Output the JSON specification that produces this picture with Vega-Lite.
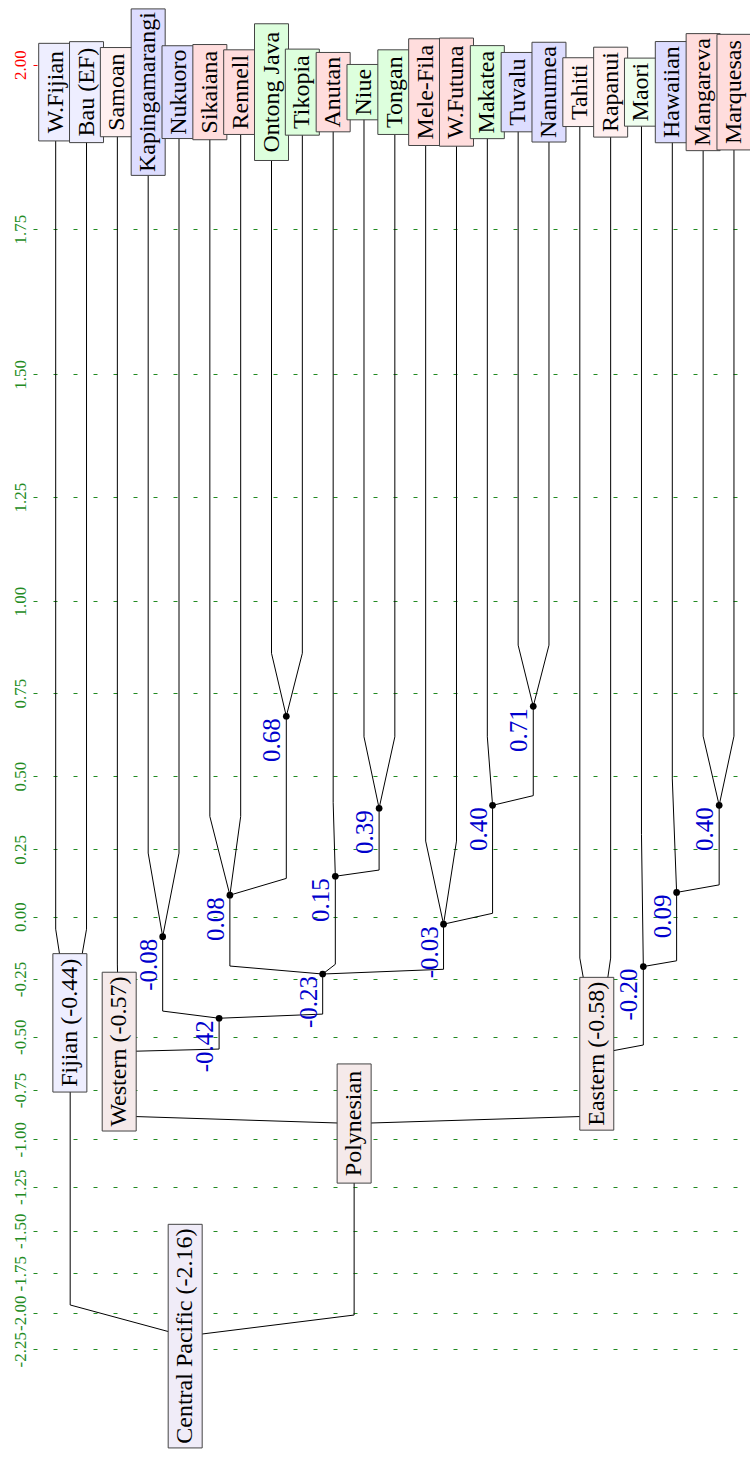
{
  "$schema": "https://vega.github.io/schema/vega-lite/v6.json",
  "width": 717,
  "height": 1461,
  "autosize": "none",
  "padding": {"left": 33, "top": 0, "right": 0, "bottom": 0},
  "background": "white",
  "config": {"view": {"stroke": null}},
  "datasets": {
    "edges": [
      {"e": "WFijian", "s": 0, "x": 0, "v": 1.958}, {"e": "WFijian", "s": 1, "x": 0, "v": -0.05}, {"e": "WFijian", "s": 2, "x": 0.47, "v": -0.44},
      {"e": "Bau", "s": 0, "x": 1, "v": 1.958}, {"e": "Bau", "s": 1, "x": 1, "v": -0.05}, {"e": "Bau", "s": 2, "x": 0.47, "v": -0.44},
      {"e": "Samoan", "s": 0, "x": 2, "v": 1.958}, {"e": "Samoan", "s": 1, "x": 2, "v": -0.19}, {"e": "Samoan", "s": 2, "x": 2.06, "v": -0.57},
      {"e": "Kap", "s": 0, "x": 3, "v": 1.958}, {"e": "Kap", "s": 1, "x": 3, "v": 0.236}, {"e": "Kap", "s": 2, "x": 3.47, "v": -0.08},
      {"e": "Nuk", "s": 0, "x": 4, "v": 1.958}, {"e": "Nuk", "s": 1, "x": 4, "v": 0.236}, {"e": "Nuk", "s": 2, "x": 3.47, "v": -0.08},
      {"e": "Sik", "s": 0, "x": 5, "v": 1.958}, {"e": "Sik", "s": 1, "x": 5, "v": 0.362}, {"e": "Sik", "s": 2, "x": 5.65, "v": 0.08},
      {"e": "Ren", "s": 0, "x": 6, "v": 1.958}, {"e": "Ren", "s": 1, "x": 6, "v": 0.362}, {"e": "Ren", "s": 2, "x": 5.65, "v": 0.08},
      {"e": "Ont", "s": 0, "x": 7, "v": 1.958}, {"e": "Ont", "s": 1, "x": 7, "v": 0.858}, {"e": "Ont", "s": 2, "x": 7.48, "v": 0.68},
      {"e": "Tik", "s": 0, "x": 8, "v": 1.958}, {"e": "Tik", "s": 1, "x": 8, "v": 0.858}, {"e": "Tik", "s": 2, "x": 7.48, "v": 0.68},
      {"e": "Anu", "s": 0, "x": 9, "v": 1.958}, {"e": "Anu", "s": 1, "x": 9, "v": 0.41}, {"e": "Anu", "s": 2, "x": 9.07, "v": 0.15},
      {"e": "Niue", "s": 0, "x": 10, "v": 1.958}, {"e": "Niue", "s": 1, "x": 10, "v": 0.618}, {"e": "Niue", "s": 2, "x": 10.49, "v": 0.39},
      {"e": "Tong", "s": 0, "x": 11, "v": 1.958}, {"e": "Tong", "s": 1, "x": 11, "v": 0.618}, {"e": "Tong", "s": 2, "x": 10.49, "v": 0.39},
      {"e": "Mele", "s": 0, "x": 12, "v": 1.958}, {"e": "Mele", "s": 1, "x": 12, "v": 0.278}, {"e": "Mele", "s": 2, "x": 12.58, "v": -0.03},
      {"e": "WFut", "s": 0, "x": 13, "v": 1.958}, {"e": "WFut", "s": 1, "x": 13, "v": 0.278}, {"e": "WFut", "s": 2, "x": 12.58, "v": -0.03},
      {"e": "Mak", "s": 0, "x": 14, "v": 1.958}, {"e": "Mak", "s": 1, "x": 14, "v": 0.618}, {"e": "Mak", "s": 2, "x": 14.17, "v": 0.40},
      {"e": "Tuv", "s": 0, "x": 15, "v": 1.958}, {"e": "Tuv", "s": 1, "x": 15, "v": 0.88}, {"e": "Tuv", "s": 2, "x": 15.49, "v": 0.71},
      {"e": "Nan", "s": 0, "x": 16, "v": 1.958}, {"e": "Nan", "s": 1, "x": 16, "v": 0.88}, {"e": "Nan", "s": 2, "x": 15.49, "v": 0.71},
      {"e": "Tah", "s": 0, "x": 17, "v": 1.958}, {"e": "Tah", "s": 1, "x": 17, "v": -0.166}, {"e": "Tah", "s": 2, "x": 17.55, "v": -0.58},
      {"e": "Rap", "s": 0, "x": 18, "v": 1.958}, {"e": "Rap", "s": 1, "x": 18, "v": -0.166}, {"e": "Rap", "s": 2, "x": 17.55, "v": -0.58},
      {"e": "Mao", "s": 0, "x": 19, "v": 1.958}, {"e": "Mao", "s": 1, "x": 19, "v": 0.3}, {"e": "Mao", "s": 2, "x": 19.06, "v": -0.20},
      {"e": "Haw", "s": 0, "x": 20, "v": 1.958}, {"e": "Haw", "s": 1, "x": 20, "v": 0.49}, {"e": "Haw", "s": 2, "x": 20.14, "v": 0.09},
      {"e": "Mang", "s": 0, "x": 21, "v": 1.958}, {"e": "Mang", "s": 1, "x": 21, "v": 0.62}, {"e": "Mang", "s": 2, "x": 21.52, "v": 0.40},
      {"e": "Marq", "s": 0, "x": 22, "v": 1.958}, {"e": "Marq", "s": 1, "x": 22, "v": 0.62}, {"e": "Marq", "s": 2, "x": 21.52, "v": 0.40},
      {"e": "n068", "s": 0, "x": 7.48, "v": 0.68}, {"e": "n068", "s": 1, "x": 7.48, "v": 0.142}, {"e": "n068", "s": 2, "x": 5.65, "v": 0.08},
      {"e": "n008", "s": 0, "x": 5.65, "v": 0.08}, {"e": "n008", "s": 1, "x": 5.65, "v": -0.198}, {"e": "n008", "s": 2, "x": 8.66, "v": -0.23},
      {"e": "m008", "s": 0, "x": 3.47, "v": -0.08}, {"e": "m008", "s": 1, "x": 3.47, "v": -0.389}, {"e": "m008", "s": 2, "x": 5.30, "v": -0.42},
      {"e": "n039", "s": 0, "x": 10.49, "v": 0.39}, {"e": "n039", "s": 1, "x": 10.49, "v": 0.173}, {"e": "n039", "s": 2, "x": 9.07, "v": 0.15},
      {"e": "n015", "s": 0, "x": 9.07, "v": 0.15}, {"e": "n015", "s": 1, "x": 9.07, "v": -0.191}, {"e": "n015", "s": 2, "x": 8.66, "v": -0.23},
      {"e": "m003", "s": 0, "x": 12.58, "v": -0.03}, {"e": "m003", "s": 1, "x": 12.58, "v": -0.211}, {"e": "m003", "s": 2, "x": 8.66, "v": -0.23},
      {"e": "n071", "s": 0, "x": 15.49, "v": 0.71}, {"e": "n071", "s": 1, "x": 15.49, "v": 0.433}, {"e": "n071", "s": 2, "x": 14.17, "v": 0.40},
      {"e": "n040L", "s": 0, "x": 14.17, "v": 0.40}, {"e": "n040L", "s": 1, "x": 14.17, "v": 0.0126}, {"e": "n040L", "s": 2, "x": 12.58, "v": -0.03},
      {"e": "n040R", "s": 0, "x": 21.52, "v": 0.40}, {"e": "n040R", "s": 1, "x": 21.52, "v": 0.118}, {"e": "n040R", "s": 2, "x": 20.14, "v": 0.09},
      {"e": "n009", "s": 0, "x": 20.14, "v": 0.09}, {"e": "n009", "s": 1, "x": 20.14, "v": -0.177}, {"e": "n009", "s": 2, "x": 19.06, "v": -0.20},
      {"e": "m023", "s": 0, "x": 8.66, "v": -0.23}, {"e": "m023", "s": 1, "x": 8.66, "v": -0.402}, {"e": "m023", "s": 2, "x": 5.30, "v": -0.42},
      {"e": "m042", "s": 0, "x": 5.30, "v": -0.42}, {"e": "m042", "s": 1, "x": 5.30, "v": -0.558}, {"e": "m042", "s": 2, "x": 2.06, "v": -0.57},
      {"e": "m020", "s": 0, "x": 19.06, "v": -0.20}, {"e": "m020", "s": 1, "x": 19.06, "v": -0.539}, {"e": "m020", "s": 2, "x": 17.55, "v": -0.58},
      {"e": "West", "s": 0, "x": 2.06, "v": -0.57}, {"e": "West", "s": 1, "x": 2.06, "v": -0.882}, {"e": "West", "s": 2, "x": 9.68, "v": -0.92},
      {"e": "East", "s": 0, "x": 17.55, "v": -0.58}, {"e": "East", "s": 1, "x": 17.55, "v": -0.882}, {"e": "East", "s": 2, "x": 9.68, "v": -0.92},
      {"e": "Fij", "s": 0, "x": 0.47, "v": -0.44}, {"e": "Fij", "s": 1, "x": 0.47, "v": -1.951}, {"e": "Fij", "s": 2, "x": 4.20, "v": -2.16},
      {"e": "Poly", "s": 0, "x": 9.68, "v": -0.92}, {"e": "Poly", "s": 1, "x": 9.68, "v": -2.016}, {"e": "Poly", "s": 2, "x": 4.20, "v": -2.16}
    ],
    "inner": [
      {"x": 7.48, "v": 0.68, "lab": "0.68"},
      {"x": 5.65, "v": 0.08, "lab": "0.08"},
      {"x": 3.47, "v": -0.08, "lab": "-0.08"},
      {"x": 5.30, "v": -0.42, "lab": "-0.42"},
      {"x": 10.49, "v": 0.39, "lab": "0.39"},
      {"x": 9.07, "v": 0.15, "lab": "0.15"},
      {"x": 8.66, "v": -0.23, "lab": "-0.23"},
      {"x": 12.58, "v": -0.03, "lab": "-0.03"},
      {"x": 14.17, "v": 0.40, "lab": "0.40"},
      {"x": 15.49, "v": 0.71, "lab": "0.71"},
      {"x": 21.52, "v": 0.40, "lab": "0.40"},
      {"x": 20.14, "v": 0.09, "lab": "0.09"},
      {"x": 19.06, "v": -0.20, "lab": "-0.20"}
    ],
    "boxes": [
      {"label": "W.Fijian", "x": 0, "v": 1.958, "k": "a"},
      {"label": "Bau (EF)", "x": 1, "v": 1.958, "k": "a"},
      {"label": "Samoan", "x": 2, "v": 1.958, "k": "e"},
      {"label": "Kapingamarangi", "x": 3, "v": 1.958, "k": "b"},
      {"label": "Nukuoro", "x": 4, "v": 1.958, "k": "b"},
      {"label": "Sikaiana", "x": 5, "v": 1.958, "k": "c"},
      {"label": "Rennell", "x": 6, "v": 1.958, "k": "c"},
      {"label": "Ontong Java", "x": 7, "v": 1.958, "k": "d"},
      {"label": "Tikopia", "x": 8, "v": 1.958, "k": "d"},
      {"label": "Anutan", "x": 9, "v": 1.958, "k": "c"},
      {"label": "Niue", "x": 10, "v": 1.958, "k": "d"},
      {"label": "Tongan", "x": 11, "v": 1.958, "k": "d"},
      {"label": "Mele-Fila", "x": 12, "v": 1.958, "k": "c"},
      {"label": "W.Futuna", "x": 13, "v": 1.958, "k": "c"},
      {"label": "Makatea", "x": 14, "v": 1.958, "k": "d"},
      {"label": "Tuvalu", "x": 15, "v": 1.958, "k": "b"},
      {"label": "Nanumea", "x": 16, "v": 1.958, "k": "b"},
      {"label": "Tahiti", "x": 17, "v": 1.958, "k": "e"},
      {"label": "Rapanui", "x": 18, "v": 1.958, "k": "e"},
      {"label": "Maori", "x": 19, "v": 1.958, "k": "f"},
      {"label": "Hawaiian", "x": 20, "v": 1.958, "k": "b"},
      {"label": "Mangareva", "x": 21, "v": 1.958, "k": "c"},
      {"label": "Marquesas", "x": 22, "v": 1.958, "k": "c"},
      {"label": "Fijian (-0.44)", "x": 0.46, "v": -0.44, "k": "a"},
      {"label": "Western (-0.57)", "x": 2.06, "v": -0.57, "k": "g"},
      {"label": "Eastern (-0.58)", "x": 17.55, "v": -0.58, "k": "g"},
      {"label": "Polynesian", "x": 9.68, "v": -0.92, "k": "g"},
      {"label": "Central Pacific (-2.16)", "x": 4.20, "v": -2.16, "k": "h"}
    ]
  },
  "encoding": {
    "x": {"field": "x", "type": "quantitative", "scale": {"domain": [-0.736, 22.52], "nice": false, "zero": false}, "axis": null},
    "y": {
      "field": "v", "type": "quantitative",
      "scale": {
        "domain": [-2.25, -2, -1.75, -1.5, -1.25, -1, -0.75, -0.5, -0.25, 0, 0.25, 0.5, 0.75, 1, 1.25, 1.5, 1.75, 2],
        "range": [1349.3, 1312.7, 1273.3, 1230.7, 1186.7, 1139.3, 1090, 1036.7, 979, 916.7, 849.3, 776, 693, 601, 497, 374.3, 229, 64.5],
        "nice": false, "zero": false
      },
      "axis": {
        "title": null,
        "values": [2, 1.75, 1.5, 1.25, 1, 0.75, 0.5, 0.25, 0, -0.25, -0.5, -0.75, -1, -1.25, -1.5, -1.75, -2, -2.25],
        "labelExpr": "replace(format(datum.value, '.2f'), '\u2212', '-')",
        "domain": false,
        "ticks": false,
        "tickSize": 0,
        "labelAngle": -90,
        "labelAlign": "center",
        "labelBaseline": "alphabetic",
        "labelPadding": 8,
        "labelFont": "Liberation Serif",
        "labelFontSize": 17,
        "labelOverlap": false,
        "labelFlush": false,
        "labelColor": {"condition": {"test": "datum.value == 2", "value": "#ff0000"}, "value": "#228b22"},
        "grid": true,
        "gridDash": [4, 16],
        "gridWidth": 1,
        "gridOpacity": 1,
        "gridColor": {"condition": {"test": "datum.value == 2", "value": "#ff0000"}, "value": "#228b22"}
      }
    }
  },
  "layer": [
    {
      "data": {"name": "edges"},
      "mark": {"type": "line", "stroke": "#000000", "strokeWidth": 1},
      "encoding": {"detail": {"field": "e", "type": "nominal"}, "order": {"field": "s", "type": "quantitative"}}
    },
    {
      "data": {"name": "inner"},
      "mark": {"type": "circle", "size": 45, "color": "#000000", "opacity": 1}
    },
    {
      "data": {"name": "inner"},
      "mark": {"type": "text", "angle": -90, "align": "right", "baseline": "alphabetic", "dx": -2, "dy": -6, "font": "Liberation Serif", "fontSize": 25, "color": "#0000cc"},
      "encoding": {"text": {"field": "lab", "type": "nominal"}}
    },
    {
      "data": {"name": "boxes"},
      "mark": {
        "type": "rect", "width": 34, "stroke": "#444444", "strokeWidth": 1,
        "height": {"expr": "24*(0.5*length(datum.label) - 0.22*length(replace(datum.label, /[^ijlrtf.() I-]/g, '')) - 0.06*length(replace(datum.label, /[^aecs]/g, '')) + 0.17*length(replace(datum.label, /[^A-Z]/g, '')) + 0.25*length(replace(datum.label, /[^mwMW]/g, ''))) + 10"}
      },
      "encoding": {
        "fill": {"field": "k", "type": "nominal", "legend": null,
          "scale": {"domain": ["a", "b", "c", "d", "e", "f", "g", "h"],
                    "range": ["#eeeeff", "#ddddff", "#ffdddd", "#ddffdd", "#fff0f0", "#f0fff0", "#f5eaea", "#f0ecf8"]}}
      }
    },
    {
      "data": {"name": "boxes"},
      "mark": {"type": "text", "angle": -90, "align": "center", "baseline": "middle", "font": "Liberation Serif", "fontSize": 24, "color": "#000000"},
      "encoding": {"text": {"field": "label", "type": "nominal"}}
    }
  ]
}
